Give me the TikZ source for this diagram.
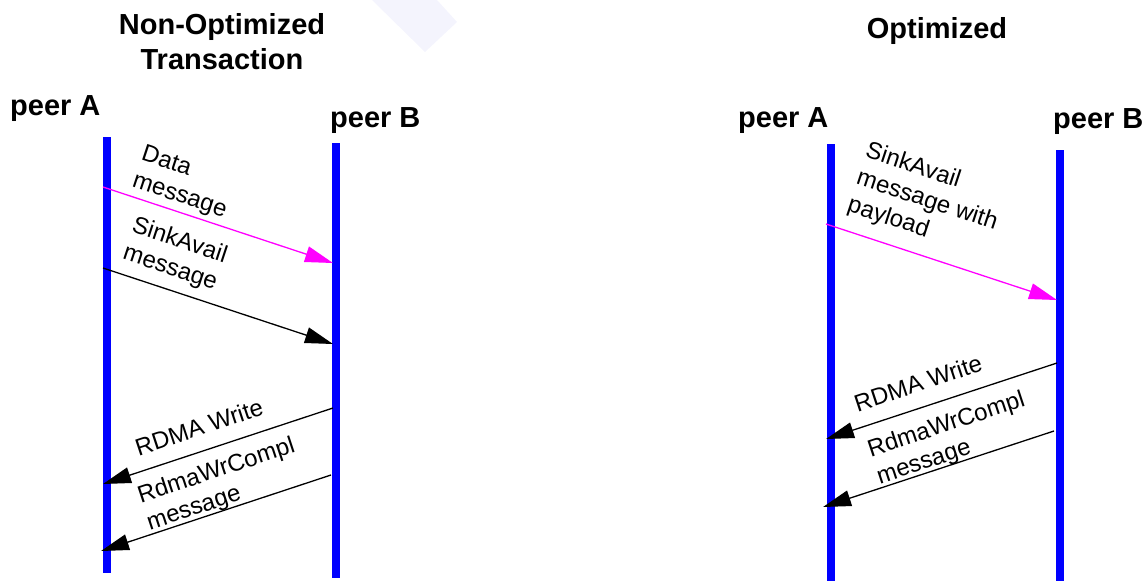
\documentclass[tikz,border=0pt]{standalone}
\usepackage{fontspec}
\setmainfont{Liberation Sans}
\usetikzlibrary{arrows.meta,positioning}
\definecolor{lifeblue}{RGB}{0,0,255}
\definecolor{datamag}{RGB}{255,0,255}
\definecolor{wmark}{RGB}{244,244,253}

\begin{document}
\begin{tikzpicture}[
  x=1pt, y=-1pt,
  title/.style={font=\fontsize{29}{35}\selectfont\bfseries, align=center, inner sep=0pt},
  peer/.style={font=\fontsize{29}{35}\selectfont\bfseries, inner sep=0pt, anchor=base west},
  lifeline/.style={draw=lifeblue, line width=8pt},
  msg/.style={font=\fontsize{24}{28.5}\selectfont, align=left, inner sep=0pt},
  arr/.style={-{Triangle[length=28pt, width=16pt]}, line width=1.3pt},
  datarr/.style={arr, color=datamag}
]
\useasboundingbox (0,0) rectangle (1146,582);

% faint watermark piece
\fill[wmark] (372,0) -- (437,0) -- (457,22) -- (425,52) -- cycle;

% titles and peers
\node[title] (titleNon) at (222,42) {Non-Optimized\\Transaction};
\node[title, anchor=base] (titleOpt) at (937,38) {Optimized};
\node[peer] (peerA1) at (10,115) {peer A};
\node[peer] (peerB1) at (330,127) {peer B};
\node[peer] (peerA2) at (738,127) {peer A};
\node[peer] (peerB2) at (1053,128) {peer B};

% lifelines
\coordinate (a1top) at (107,137); \coordinate (a1bot) at (107,573);
\coordinate (b1top) at (336,143); \coordinate (b1bot) at (336,578);
\coordinate (a2top) at (831,144); \coordinate (a2bot) at (831,581);
\coordinate (b2top) at (1060,150); \coordinate (b2bot) at (1060,581);
\draw[lifeline] (a1top) -- (a1bot);
\draw[lifeline] (b1top) -- (b1bot);
\draw[lifeline] (a2top) -- (a2bot);
\draw[lifeline] (b2top) -- (b2bot);

% message end points - non-optimized
\coordinate (dataS) at (103,187); \coordinate (dataE) at (333,263);
\coordinate (sinkS) at (103,268); \coordinate (sinkE) at (333,344);
\coordinate (wrS) at (333,408);   \coordinate (wrE) at (103,484);
\coordinate (cmpS) at (331,475);  \coordinate (cmpE) at (101,551);
% message end points - optimized
\coordinate (payS) at (826,224);  \coordinate (payE) at (1057,300);
\coordinate (wr2S) at (1057,363); \coordinate (wr2E) at (826,439);
\coordinate (cmp2S) at (1054,431); \coordinate (cmp2E) at (823,507);

\draw[datarr] (dataS) -- (dataE);
\draw[arr] (sinkS) -- (sinkE);
\draw[arr] (wrS) -- (wrE);
\draw[arr] (cmpS) -- (cmpE);
\draw[datarr] (payS) -- (payE);
\draw[arr] (wr2S) -- (wr2E);
\draw[arr] (cmp2S) -- (cmp2E);

% labels
\node[msg, rotate=-18.3] (lblData) at (184,183) {Data\\message};
\node[msg, rotate=-18.3] (lblSink) at (175,255) {SinkAvail\\message};
\node[msg, rotate=18.3] (lblWr) at (199,427) {RDMA Write};
\node[msg, rotate=18.3] (lblCmp) at (221,485) {RdmaWrCompl\\message};
\node[msg, rotate=-18.3] (lblPay) at (927,201) {SinkAvail\\message with\\payload};
\node[msg, rotate=18.3] (lblWr2) at (918,383) {RDMA Write};
\node[msg, rotate=18.3] (lblCmp2) at (951,439) {RdmaWrCompl\\message};
\end{tikzpicture}
\end{document}
